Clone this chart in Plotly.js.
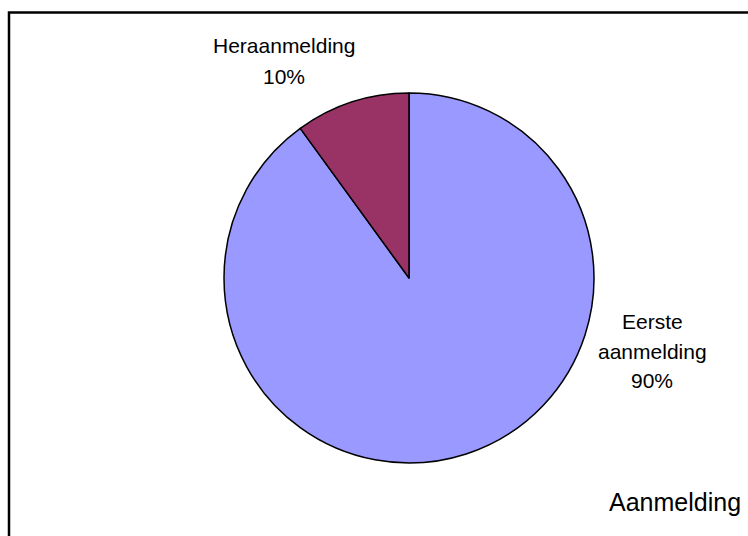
<!DOCTYPE html>
<html>
<head>
<meta charset="utf-8">
<script src="https://cdn.plot.ly/plotly-3.0.1.min.js"></script>
<style>html,body{margin:0;padding:0;background:#fff;}#chart{width:748px;height:536px;}</style>
</head>
<body>
<div id="chart"></div>
<script>
var categories = ["Eerste aanmelding", "Heraanmelding"];
var values = [90, 10];
var colors = ["#9999FF", "#993366"];
var chartTitle = "Aanmelding";

var W = 748, H = 536;
var cx = 409, cy = 278, r = 185;

var trace = {
  type: "pie",
  labels: categories,
  values: values,
  sort: false,
  direction: "clockwise",
  rotation: 0,
  textinfo: "none",
  hoverinfo: "label+percent",
  marker: { colors: colors, line: { color: "#000000", width: 1.5 } },
  domain: { x: [(cx - r) / W, (cx + r) / W], y: [(H - cy - r) / H, (H - cy + r) / H] },
  showlegend: false
};

var total = values.reduce(function (a, b) { return a + b; }, 0);
function pct(v) { return Math.round(v / total * 100) + "%"; }

var labelFont = 21;
// label blocks: centre x and baseline of first line, line pitch
var blocks = [
  { x: 652, base: 329, pitch: 29.7, lines: categories[0].split(" ").concat([pct(values[0])]) },
  { x: 284, base: 52.7, pitch: 31.3, lines: [categories[1], pct(values[1])] }
];

var annotations = [];
blocks.forEach(function (b) {
  b.lines.forEach(function (t, i) {
    var baseline = b.base + i * b.pitch;
    annotations.push({
      xref: "paper", yref: "paper",
      x: b.x / W, y: 1 - (baseline - 0.36 * labelFont) / H,
      xanchor: "center", yanchor: "middle",
      text: t, showarrow: false,
      font: { family: "Liberation Sans, Arial, sans-serif", size: labelFont, color: "#000" }
    });
  });
});
var titleFont = 25;
annotations.push({
  xref: "paper", yref: "paper",
  x: 674.5 / W, y: 1 - (511 - 0.36 * titleFont) / H,
  xanchor: "center", yanchor: "middle",
  text: chartTitle, showarrow: false,
  font: { family: "Liberation Sans, Arial, sans-serif", size: titleFont, color: "#000" }
});

var layout = {
  width: W, height: H,
  margin: { l: 0, r: 0, t: 0, b: 0 },
  paper_bgcolor: "#ffffff",
  plot_bgcolor: "#ffffff",
  annotations: annotations,
  shapes: [{
    type: "rect", xref: "paper", yref: "paper",
    x0: 9 / W, x1: 1.05, y0: -0.05, y1: 1 - 12.5 / H,
    line: { color: "#000", width: 2.5 }
  }]
};

Plotly.newPlot("chart", [trace], layout, { displayModeBar: false, staticPlot: true });
</script>
</body>
</html>
